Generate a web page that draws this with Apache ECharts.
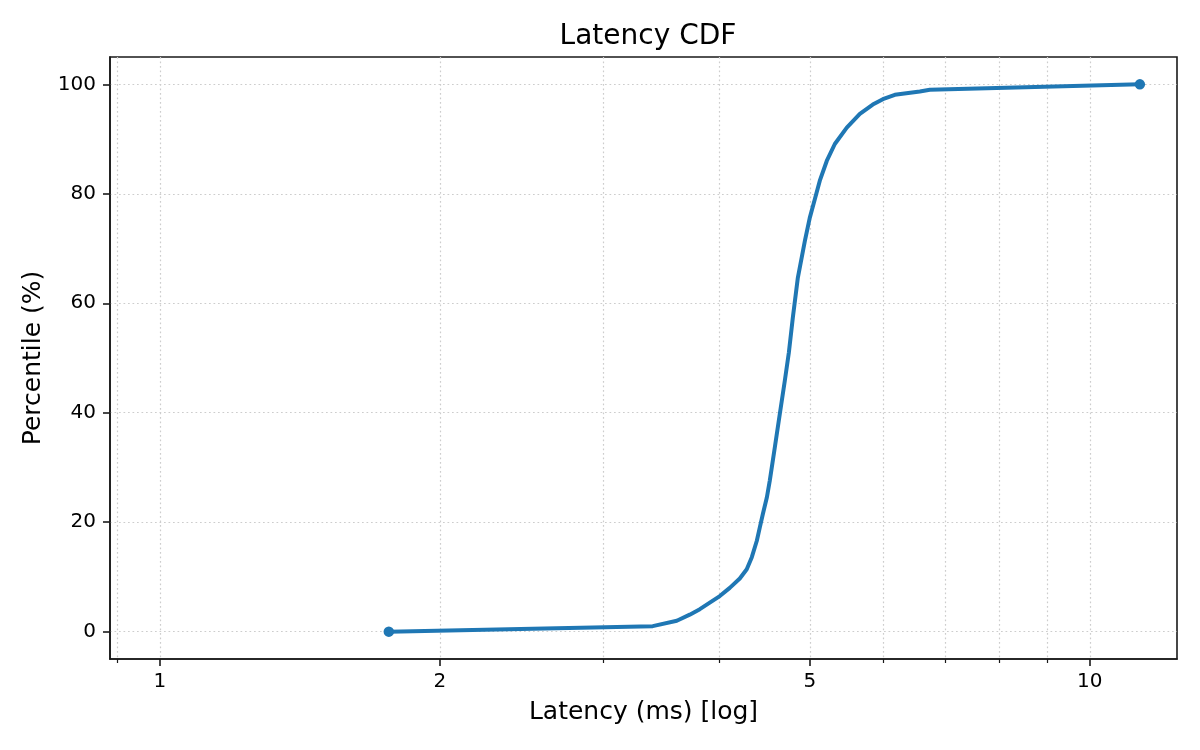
<!DOCTYPE html>
<html>
<head>
<meta charset="utf-8">
<script src="https://cdn.jsdelivr.net/npm/echarts@6/dist/echarts.min.js"></script>
<style>html,body{margin:0;padding:0;background:#fff}#c{width:1200px;height:750px}</style>
</head>
<body>
<div id="c"></div>
<script>
const latencyMs = [1.763, 3.389, 3.597, 3.714, 3.808, 3.903, 4.001, 4.101, 4.204, 4.277, 4.331, 4.385, 4.417, 4.451, 4.495, 4.528, 4.585, 4.642, 4.700, 4.747, 4.794, 4.854, 4.939, 4.999, 5.062, 5.125, 5.214, 5.319, 5.479, 5.659, 5.843, 5.991, 6.171, 6.565, 6.729, 11.32];
const percentiles = [0, 1, 2, 3.1, 4.1, 5.3, 6.5, 8.0, 9.7, 11.4, 13.6, 16.6, 19.0, 21.5, 24.5, 27.6, 33.7, 39.8, 45.9, 51, 57.4, 64.7, 71.4, 75.6, 79, 82.4, 86, 89.1, 92.1, 94.6, 96.3, 97.3, 98.1, 98.7, 99.0, 100];
const xMajorTicks = [1, 2, 5, 10];
const xMinorTicks = [0.9, 3, 4, 6, 7, 8, 9];
const yTicks = [0, 20, 40, 60, 80, 100];

const FONT = 'DejaVu Sans';
const chart = echarts.init(document.getElementById('c'), null, {renderer: 'canvas'});
const points = latencyMs.map((v, i) => [v, percentiles[i]]);
const last = points.length - 1;
const gridLine = {show: true, lineStyle: {color: '#cdcdcd', type: [1.7, 2.8], width: 1.2}};
const spine = {color: '#1a1a1a', width: 1.6};
chart.setOption({
  animation: false,
  backgroundColor: '#ffffff',
  title: {
    text: 'Latency CDF', left: 643, top: 18, textAlign: 'center',
    textStyle: {fontFamily: FONT, fontSize: 28, fontWeight: 'normal', color: '#000'}
  },
  grid: {left: 110, right: 23, top: 57, bottom: 91, show: true, borderColor: '#1a1a1a', borderWidth: 1.6, backgroundColor: 'transparent'},
  xAxis: [{
    type: 'log', logBase: 10, min: 0.884, max: 12.41,
    name: 'Latency (ms) [log]', nameLocation: 'middle', nameGap: 41,
    nameTextStyle: {fontFamily: FONT, fontSize: 25, color: '#000'},
    axisLine: {show: true, onZero: false, lineStyle: spine},
    axisTick: {show: true, inside: false, customValues: xMajorTicks, length: 7, lineStyle: spine},
    axisLabel: {show: true, customValues: xMajorTicks, margin: 13, fontFamily: FONT, fontSize: 20, color: '#000', formatter: v => String(Math.round(v))},
    splitLine: gridLine, minorTick: {show: false}, minorSplitLine: {show: false}
  }, {
    type: 'log', logBase: 10, min: 0.884, max: 12.41, position: 'bottom',
    axisLine: {show: false, onZero: false},
    axisTick: {show: true, inside: false, customValues: xMinorTicks, length: 4, lineStyle: {color: '#1a1a1a', width: 1.2}},
    axisLabel: {show: false},
    splitLine: gridLine
  }],
  yAxis: {
    type: 'value', min: -5, max: 105,
    name: 'Percentile (%)', nameLocation: 'middle', nameGap: 64, nameRotate: 90,
    nameTextStyle: {fontFamily: FONT, fontSize: 25, color: '#000'},
    axisLine: {show: true, onZero: false, lineStyle: spine},
    axisTick: {show: true, inside: false, customValues: yTicks, length: 7, lineStyle: spine},
    axisLabel: {show: true, customValues: yTicks, margin: 14, fontFamily: FONT, fontSize: 20, color: '#000'},
    splitLine: gridLine
  },
  series: [{
    type: 'line', xAxisIndex: 0, data: points,
    symbol: 'circle',
    symbolSize: (val, p) => (p.dataIndex === 0 || p.dataIndex === last) ? 10.5 : 0,
    showAllSymbol: true,
    lineStyle: {color: '#1f77b4', width: 4, join: 'round'},
    itemStyle: {color: '#1f77b4'},
    z: 5
  }]
});
</script>
</body>
</html>
